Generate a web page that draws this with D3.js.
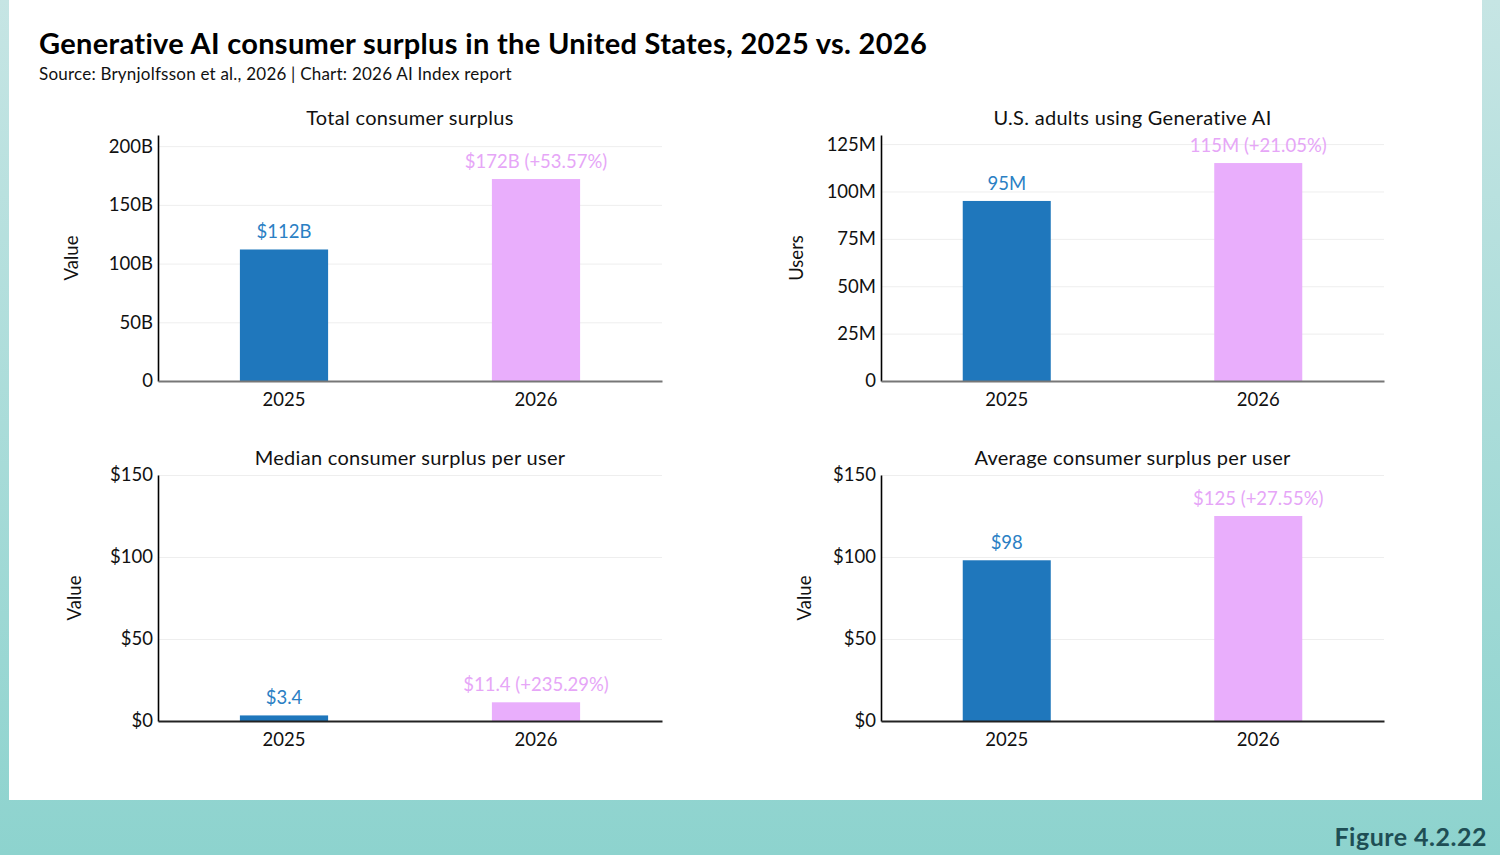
<!DOCTYPE html>
<html>
<head>
<meta charset="utf-8">
<script src="https://cdn.jsdelivr.net/npm/d3@7"></script>
<style>
  body { margin: 0; padding: 0; }
  svg { display: block; font-family: "Lato", "Noto Sans", sans-serif; }
  .grid line { stroke: #eeeeee; stroke-width: 1; }
  .grid .domain { display: none; }
  .y-axis text, .x-axis text { fill: #111; }
</style>
</head>
<body>
<div id="chart"></div>
<script>
// data
var years = ["2025", "2026"];
var totalSurplus = [112, 172];          // billions USD
var totalLabels = ["$112B", "$172B (+53.57%)"];
var adultsUsing = [95, 115];            // millions
var adultsLabels = ["95M", "115M (+21.05%)"];
var medianSurplus = [3.4, 11.4];        // USD per user
var medianLabels = ["$3.4", "$11.4 (+235.29%)"];
var averageSurplus = [98, 125];         // USD per user
var averageLabels = ["$98", "$125 (+27.55%)"];

var totalTicks = [0, 50, 100, 150, 200];
var adultsTicks = [0, 25, 50, 75, 100, 125];
var dollarTicks = [0, 50, 100, 150];

var barColors = ["#1f77bc", "#e9aefc"];
var labelColors = ["#2a80c4", "#e6a6f7"];

var svg = d3.select("#chart").append("svg")
    .attr("width", 1500)
    .attr("height", 855);

// background
var defs = svg.append("defs");
var grad = defs.append("linearGradient")
    .attr("id", "bg")
    .attr("x1", 0).attr("y1", 0).attr("x2", 0).attr("y2", 1);
grad.append("stop").attr("offset", "0%").attr("stop-color", "#c6e5e4");
grad.append("stop").attr("offset", "100%").attr("stop-color", "#8dd3ce");

svg.append("rect")
    .attr("width", 1500).attr("height", 855)
    .attr("fill", "url(#bg)");

svg.append("rect")
    .attr("x", 9).attr("y", 0)
    .attr("width", 1473).attr("height", 800)
    .attr("fill", "#ffffff");

svg.append("text")
    .attr("x", 39).attr("y", 54)
    .attr("font-size", 29)
    .attr("font-weight", 700)
    .attr("letter-spacing", 0.32)
    .attr("fill", "#000")
    .text("Generative AI consumer surplus in the United States, 2025 vs. 2026");

svg.append("text")
    .attr("x", 39).attr("y", 80)
    .attr("font-size", 17)
    .attr("letter-spacing", 0.22)
    .attr("fill", "#111")
    .text("Source: Brynjolfsson et al., 2026 | Chart: 2026 AI Index report");

svg.append("text")
    .attr("x", 1487).attr("y", 846)
    .attr("text-anchor", "end")
    .attr("font-size", 25)
    .attr("font-weight", 700)
    .attr("letter-spacing", 0.5)
    .attr("fill", "#1e4e55")
    .text("Figure 4.2.22");

function drawPanel(cfg) {
  var g = svg.append("g");

  var x = d3.scaleBand()
      .domain(years)
      .range([cfg.left, cfg.right])
      .paddingInner(0.65)
      .paddingOuter(0.325);

  var y = d3.scaleLinear()
      .domain([0, cfg.max])
      .range([cfg.bottom, cfg.top]);

  // gridlines
  g.append("g")
    .attr("class", "grid")
    .attr("transform", "translate(" + cfg.left + ",0)")
    .call(d3.axisLeft(y).tickValues(cfg.ticks.slice(1)).tickSize(-(cfg.right - cfg.left)).tickFormat(""));

  // bars
  g.selectAll(".bar")
    .data(cfg.values)
    .enter().append("rect")
      .attr("class", "bar")
      .attr("x", (d, i) => x(years[i]))
      .attr("y", d => y(d))
      .attr("width", x.bandwidth())
      .attr("height", d => cfg.bottom - y(d))
      .attr("fill", (d, i) => barColors[i]);

  // value labels
  g.selectAll(".val")
    .data(cfg.values)
    .enter().append("text")
      .attr("class", "val")
      .attr("x", (d, i) => x(years[i]) + x.bandwidth() / 2)
      .attr("y", d => y(d) - 11)
      .attr("text-anchor", "middle")
      .attr("font-size", 18.5)
      .attr("fill", (d, i) => labelColors[i])
      .text((d, i) => cfg.labels[i]);

  // y axis
  var yAxis = g.append("g")
    .attr("class", "y-axis")
    .attr("transform", "translate(" + cfg.left + ",0)")
    .call(d3.axisLeft(y).tickValues(cfg.ticks).tickSize(0).tickPadding(5).tickFormat(cfg.fmt));
  yAxis.select(".domain").attr("stroke", "#000").attr("stroke-width", 1.6);
  yAxis.selectAll("text").attr("font-size", 18.5).attr("font-family", "Lato, sans-serif");

  // x axis
  var xAxis = g.append("g")
    .attr("class", "x-axis")
    .attr("transform", "translate(0," + cfg.bottom + ")")
    .call(d3.axisBottom(x).tickSize(0).tickPadding(12).tickSizeOuter(0));
  xAxis.select(".domain").attr("stroke", cfg.xColor).attr("stroke-width", 2);
  xAxis.selectAll("text").attr("font-size", 18.5).attr("font-family", "Lato, sans-serif");

  // titles
  g.append("text")
    .attr("x", (cfg.left + cfg.right) / 2)
    .attr("y", cfg.titleY)
    .attr("text-anchor", "middle")
    .attr("font-size", 20)
    .attr("letter-spacing", 0.3)
    .attr("fill", "#111")
    .text(cfg.title);

  g.append("text")
    .attr("transform", "translate(" + (cfg.left - cfg.yTitleOff) + "," + ((cfg.top + cfg.bottom) / 2) + ") rotate(-90)")
    .attr("text-anchor", "middle")
    .attr("dy", "0.35em")
    .attr("font-size", 18.5)
    .attr("fill", "#111")
    .text(cfg.yTitle);
}

drawPanel({
  left: 158, right: 662, top: 135, bottom: 381, max: 209.5,
  values: totalSurplus, labels: totalLabels, ticks: totalTicks,
  fmt: d => d === 0 ? "0" : d + "B",
  title: "Total consumer surplus", titleY: 125,
  yTitle: "Value", yTitleOff: 86, xColor: "#777"
});

drawPanel({
  left: 881, right: 1384, top: 135, bottom: 381, max: 129.8,
  values: adultsUsing, labels: adultsLabels, ticks: adultsTicks,
  fmt: d => d === 0 ? "0" : d + "M",
  title: "U.S. adults using Generative AI", titleY: 125,
  yTitle: "Users", yTitleOff: 84, xColor: "#777"
});

drawPanel({
  left: 158, right: 662, top: 475, bottom: 721, max: 150,
  values: medianSurplus, labels: medianLabels, ticks: dollarTicks,
  fmt: d => "$" + d,
  title: "Median consumer surplus per user", titleY: 465,
  yTitle: "Value", yTitleOff: 83, xColor: "#222"
});

drawPanel({
  left: 881, right: 1384, top: 475, bottom: 721, max: 150,
  values: averageSurplus, labels: averageLabels, ticks: dollarTicks,
  fmt: d => "$" + d,
  title: "Average consumer surplus per user", titleY: 465,
  yTitle: "Value", yTitleOff: 76, xColor: "#222"
});
</script>
</body>
</html>
